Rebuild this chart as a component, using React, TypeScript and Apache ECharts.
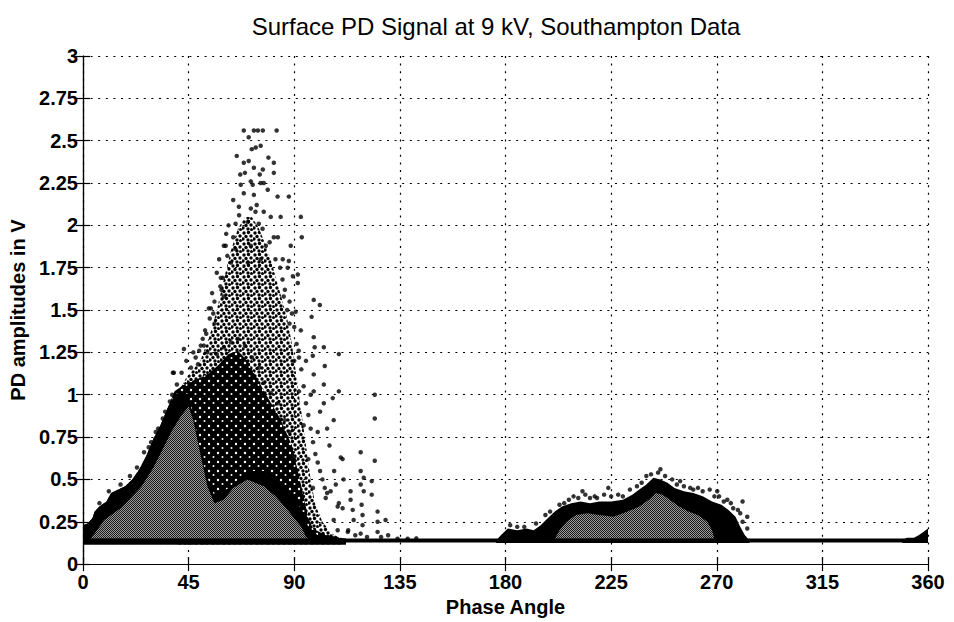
import React, { useEffect, useRef } from "react";
import * as echarts from "echarts";

const titleText = "Surface PD Signal at 9 kV, Southampton Data";
const xName = "Phase Angle";
const yName = "PD amplitudes in V";
const xMin = 0, xMax = 360, xStep = 45;
const yMin = 0, yMax = 3, yStep = 0.25;

// noise-floor band
const baselineLevel = 0.14;
const baselineSpan: [number, number][] = [[0, baselineLevel], [360, baselineLevel]];

// cluster 1 (positive half-cycle): medium-density column envelope
const column1: [number, number][] = [
  [40, 1.0], [44, 1.1], [50, 1.2], [54, 1.35], [57, 1.5], [60, 1.68], [63, 1.85], [66, 1.98],
  [69, 2.05], [72, 2.05], [75, 1.98], [78, 1.88], [81, 1.75], [84, 1.6], [87, 1.45], [89, 1.3],
  [91, 1.1], [93, 0.9], [95, 0.7], [97, 0.5], [99, 0.35], [102, 0.25], [106, 0.18], [110, 0.15],
];
const column1Floor = 0.115;

// cluster 1: dense black envelope
const dense1: [number, number][] = [
  [0, 0.23], [2, 0.24], [4, 0.27], [5, 0.31], [7, 0.34], [10, 0.37], [12, 0.42], [15, 0.44],
  [18, 0.46], [21, 0.5], [24, 0.56], [27, 0.64], [30, 0.74], [33, 0.82], [36, 0.92], [39, 1.02],
  [42, 1.05], [46, 1.08], [50, 1.1], [54, 1.13], [58, 1.18], [62, 1.24], [66, 1.26], [70, 1.2],
  [74, 1.1], [78, 1.0], [84, 0.86], [89, 0.7], [92, 0.52], [94, 0.4], [96, 0.27], [98, 0.21],
  [102, 0.18], [108, 0.16], [112, 0.15],
];
const dense1Floor = 0.115;

// cluster 1: solid-black outer rim (left flank and floor)
const rim1: [number, number][] = [
  [0, 0.23], [2, 0.24], [4, 0.27], [5, 0.31], [7, 0.34], [10, 0.37], [12, 0.42], [15, 0.44],
  [18, 0.46], [21, 0.5], [24, 0.56], [27, 0.64], [30, 0.74], [33, 0.82], [36, 0.92], [39, 1.0],
  [42, 1.02], [45, 1.0], [48, 0.8], [52, 0.55], [56, 0.4], [62, 0.45], [70, 0.55], [78, 0.55],
  [86, 0.45], [92, 0.35], [96, 0.22], [100, 0.17], [108, 0.155], [112, 0.15],
];

// cluster 1: grey (very dense) interior
const grey1: [number, number][] = [
  [3, 0.15], [5, 0.18], [9, 0.26], [16, 0.33], [21, 0.4], [25, 0.46], [30, 0.57], [34, 0.68],
  [38, 0.79], [42, 0.88], [45, 0.93], [47, 0.85], [50, 0.65], [53, 0.46], [56, 0.36], [60, 0.38],
  [64, 0.45], [70, 0.5], [77, 0.46], [82, 0.4], [86, 0.34], [90, 0.27], [93, 0.22], [95, 0.16],
  [96, 0.15],
];
const grey1Floor = 0.15;

// cluster 2 (negative half-cycle): dense black envelope
const dense2: [number, number][] = [
  [176, 0.14], [178, 0.17], [181, 0.21], [185, 0.2], [189, 0.21], [192, 0.2], [195, 0.23],
  [198, 0.27], [201, 0.31], [204, 0.34], [208, 0.36], [212, 0.37], [216, 0.36], [220, 0.37],
  [225, 0.37], [230, 0.38], [234, 0.41], [237, 0.44], [240, 0.47], [243, 0.51], [246, 0.5],
  [249, 0.48], [252, 0.45], [256, 0.43], [260, 0.42], [264, 0.4], [268, 0.37], [272, 0.35],
  [275, 0.32], [278, 0.28], [280, 0.22], [282, 0.17], [284, 0.14],
];
const dense2Floor = 0.125;

// cluster 2: grey interior
const grey2: [number, number][] = [
  [201, 0.15], [203, 0.2], [206, 0.25], [210, 0.29], [215, 0.3], [220, 0.29], [226, 0.28],
  [232, 0.31], [237, 0.34], [241, 0.38], [244, 0.42], [247, 0.41], [250, 0.38], [254, 0.34],
  [258, 0.31], [262, 0.29], [266, 0.25], [268, 0.2], [269, 0.15],
];
const grey2Floor = 0.15;

// rise at the end of the cycle
const tail: [number, number][] = [
  [349, 0.14], [351, 0.155], [354, 0.155], [356, 0.17], [358, 0.19], [360, 0.21],
];
const tailFloor = 0.125;

// individual (sparse) pulses
const pulses: [number, number][] = [
  // peak top
  [68.5, 2.56], [72.8, 2.56], [74.5, 2.56], [76.6, 2.56], [82.5, 2.56], [70.6, 2.52],
  [71.9, 2.45], [73.6, 2.46], [75.7, 2.47], [65.5, 2.41], [68.5, 2.37], [70.6, 2.38],
  [72.8, 2.34], [76.6, 2.33], [81.3, 2.37], [69, 2.31], [75.3, 2.3], [81.3, 2.31],
  [67.2, 2.24], [72.3, 2.24], [77, 2.25], [71.5, 2.26], [75.7, 2.25], [87.7, 2.17],
  [92.8, 2.05], [93.2, 1.93], [68.5, 2.19], [72.8, 2.18], [78.7, 2.21], [82.9, 2.17],
  [66.4, 2.11], [71.5, 2.1], [77, 2.08], [80, 2.05], [84.2, 2.05], [65, 2.01], [70.2, 2.02],
  [74.9, 2.01], [81.3, 1.93], [83, 1.93], [60.8, 1.88], [65, 1.86], [71.5, 1.88], [77.9, 1.88],
  [88.5, 1.88], [63, 1.78], [70.2, 1.78], [75.7, 1.8], [85.1, 1.8], [87.2, 1.75], [89.4, 1.7],
  [91.5, 1.71], [59.6, 1.69], [91.5, 1.66], [87.7, 1.79], [60, 1.88], [58.7, 1.69],
  [54.5, 1.51], [53.6, 1.51], [90.6, 1.49], [64, 2.15], [67, 2.3], [79, 2.4], [74, 2.12],
  // column edges
  [52, 1.38], [54, 1.45], [55, 1.6], [56, 1.55], [57, 1.72], [58, 1.8], [59, 1.62], [61, 1.95],
  [62, 2.0], [53, 1.25], [51, 1.33], [84, 1.75], [86, 1.62], [88, 1.55], [89, 1.48], [90, 1.4],
  [91, 1.3], [92, 1.22], [93, 1.15], [94, 1.05], [95, 0.95], [96, 0.88], [97, 0.8], [98, 0.72],
  [99, 0.65], [100, 0.6], [101, 0.55], [102, 0.5], [103, 0.45], [104, 0.42], [100, 0.78],
  [101, 0.9], [97, 1.0], [95, 1.2], [92.8, 1.38], [91.9, 1.26], [85, 1.68], [87, 1.5],
  [49.5, 1.26], [52.5, 1.36], [55.5, 1.48], [58.5, 1.64], [61.5, 1.82], [64, 1.93],
  [66.5, 2.06], [60, 1.58], [56, 1.42], [73.5, 2.08], [76.5, 1.98], [79.5, 1.9], [82, 1.8],
  [85.5, 1.58], [88, 1.42], [90, 1.2], [92, 1.02], [94, 0.82], [96, 0.62], [98, 0.45],
  // dense-core boundary
  [57, 1.24], [60, 1.28], [63, 1.31], [66, 1.33], [69, 1.29], [72, 1.22], [75, 1.16],
  [77, 1.07], [80, 1.01], [83, 0.95], [86, 0.85], [88, 0.78], [90, 0.63],
  // left edge of cluster 1
  [43, 1.27], [38.7, 1.13], [50.2, 1.29], [51.5, 1.29], [38.3, 1.13], [26, 0.66], [29, 0.72],
  [32, 0.8], [35, 0.9], [38, 1.0], [40, 1.06], [42, 1.13], [44, 1.2], [47, 1.25], [49, 1.18],
  [20, 0.52], [16, 0.47], [11, 0.43], [7, 0.36], [23, 0.57], [28, 0.69], [31, 0.78],
  [34, 0.86], [37, 0.96], [46, 1.16], [48, 1.22],
  // right-hand tail of cluster 1
  [98.3, 1.56], [100.9, 1.53], [97.4, 1.46], [98.3, 1.34], [98.7, 1.28], [102.6, 1.28],
  [103, 1.17], [109, 1.24], [97.9, 1.23], [98.3, 1.12], [102.6, 1.06], [109, 1.02],
  [124.3, 1.0], [124.3, 0.86], [102.6, 0.95], [106.4, 0.98], [106.8, 0.85], [98.3, 1.02],
  [118.3, 0.66], [124.3, 0.61], [110.6, 0.62], [109.8, 0.63], [118.3, 0.55], [119.6, 0.51],
  [123, 0.49], [114, 0.43], [118.3, 0.47], [119.6, 0.43], [123, 0.41], [107.7, 0.47],
  [105.5, 0.43], [109, 0.36], [114, 0.38], [114.9, 0.32], [118.7, 0.35], [119.1, 0.29],
  [125.5, 0.31], [128.9, 0.26], [125.5, 0.25], [115.3, 0.26], [106.8, 0.26], [119.1, 0.23],
  [125.5, 0.19], [118.3, 0.18], [112.8, 0.19], [108.5, 0.2], [110.6, 0.33], [103.4, 0.39],
  [108.5, 0.34], [105, 0.7], [104, 0.8], [107, 0.55], [111, 0.5], [113, 0.2], [116, 0.17],
  [121, 0.16], [127, 0.16], [130, 0.17], [134, 0.15], [138.3, 0.15], [142, 0.152],
  // cluster 2 outliers
  [246, 0.56], [212.8, 0.43], [223.8, 0.45], [240, 0.52], [270.2, 0.43], [262, 0.45],
  [258.7, 0.45], [254.4, 0.49], [274.5, 0.38], [279, 0.32], [219, 0.39], [203, 0.35],
  [205, 0.36], [209, 0.4], [214, 0.41], [218, 0.4], [222, 0.41], [228, 0.41], [233, 0.44],
  [238, 0.48], [242, 0.53], [245, 0.54], [248, 0.52], [251, 0.5], [256, 0.46], [264, 0.43],
  [267, 0.44], [271, 0.4], [276, 0.36], [280, 0.3], [281, 0.25], [283, 0.21], [281, 0.37],
  [283, 0.28], [185, 0.22], [182, 0.23], [188, 0.22], [193, 0.24], [197, 0.29], [199, 0.31],
  [207, 0.38], [211, 0.39], [216, 0.39], [225, 0.4], [230, 0.4], [236, 0.46], [253, 0.47],
  [260, 0.44], [269, 0.4], [273, 0.37], [277, 0.33],
];

// texture tiles (pattern style only)
const sparseTile: [number, number, number][] = [
  [2, 2, 1.7], [6.5, 1.5, 1.7], [9, 5, 1.7], [4, 5.5, 1.7], [1, 8, 1.7], [6, 9, 1.7], [9.5, 9.5, 1.5],
];
const holeTile: [number, number, number][] = [[2, 3, 1.2], [6.5, 7, 1.0]];

function makeTile(size: number, draw: (ctx: CanvasRenderingContext2D) => void) {
  const c = document.createElement("canvas");
  c.width = size;
  c.height = size;
  const ctx = c.getContext("2d")!;
  draw(ctx);
  return { image: c, repeat: "repeat" };
}

function polygonSeries(points: [number, number][], floor: number, fill: any, z: number) {
  return {
    type: "custom",
    coordinateSystem: "cartesian2d",
    silent: true,
    z,
    clip: true,
    data: points,
    encode: { x: 0, y: 1 },
    renderItem: (params: any, api: any) => {
      if (params.dataIndex !== 0) return null;
      const pts = points.map((p) => api.coord(p));
      pts.push(api.coord([points[points.length - 1][0], floor]));
      pts.push(api.coord([points[0][0], floor]));
      return { type: "polygon", shape: { points: pts }, style: { fill } };
    },
  };
}

export default function App() {
  const ref = useRef<HTMLDivElement>(null);
  useEffect(() => {
    if (!ref.current) return;
    const chart = echarts.init(ref.current, undefined, { renderer: "svg" });
    const font = "'Liberation Sans', Arial, sans-serif";
    const grid = { color: "#000", width: 1.2, type: [2, 5.6] as any };

    const dot = (ctx: CanvasRenderingContext2D, x: number, y: number, r: number) => {
      ctx.beginPath(); ctx.arc(x, y, r, 0, Math.PI * 2); ctx.fill();
    };
    const sparseFill = makeTile(11, (ctx) => {
      ctx.fillStyle = "#000";
      sparseTile.forEach(([x, y, r]) => dot(ctx, x, y, r));
    });
    const denseFill = makeTile(9, (ctx) => {
      ctx.fillStyle = "#000";
      ctx.fillRect(0, 0, 9, 9);
      ctx.fillStyle = "#fff";
      holeTile.forEach(([x, y, r]) => dot(ctx, x, y, r));
    });
    const stippleFill = makeTile(2, (ctx) => {
      ctx.fillStyle = "#9a9a9a";
      ctx.fillRect(0, 0, 2, 2);
      ctx.fillStyle = "#1a1a1a";
      ctx.fillRect(0, 0, 1, 1);
      ctx.fillRect(1, 1, 1, 1);
    });

    chart.setOption({
      animation: false,
      backgroundColor: "#fff",
      title: {
        text: titleText,
        left: 491,
        textAlign: "center",
        top: 9,
        textStyle: { fontFamily: font, fontSize: 24, fontWeight: "normal", color: "#000" },
      },
      grid: { left: 82, right: 26, top: 56, bottom: 55 },
      xAxis: [
        {
          type: "value", min: xMin, max: xMax, interval: xStep, position: "bottom",
          name: xName, nameLocation: "middle", nameGap: 28,
          nameTextStyle: { fontFamily: font, fontSize: 20, fontWeight: "bold", color: "#000" },
          axisLine: { show: true, lineStyle: { color: "#000", width: 1.2 } },
          axisTick: { show: true, inside: true, length: 7, lineStyle: { color: "#000", width: 1.2 } },
          axisLabel: { fontFamily: font, fontSize: 20, fontWeight: "bold", color: "#000", margin: 8 },
          splitLine: { show: true, lineStyle: grid },
        },
        {
          type: "value", min: xMin, max: xMax, interval: xStep, position: "top",
          axisLine: { show: true, lineStyle: { color: "#000", width: 1.2 } },
          axisTick: { show: true, inside: true, length: 7, lineStyle: { color: "#000", width: 1.2 } },
          axisLabel: { show: false },
          splitLine: { show: false },
        },
      ],
      yAxis: [
        {
          type: "value", min: yMin, max: yMax, interval: yStep, position: "left",
          name: yName, nameLocation: "middle", nameGap: 55,
          nameTextStyle: { fontFamily: font, fontSize: 20, fontWeight: "bold", color: "#000" },
          axisLine: { show: true, lineStyle: { color: "#000", width: 1.2 } },
          axisTick: { show: true, inside: true, length: 7, lineStyle: { color: "#000", width: 1.2 } },
          axisLabel: { fontFamily: font, fontSize: 20, fontWeight: "bold", color: "#000", margin: 5 },
          splitLine: { show: true, lineStyle: grid },
        },
        {
          type: "value", min: yMin, max: yMax, interval: yStep, position: "right",
          axisLine: { show: true, lineStyle: { color: "#000", width: 1.2 } },
          axisTick: { show: true, inside: true, length: 7, lineStyle: { color: "#000", width: 1.2 } },
          axisLabel: { show: false },
          splitLine: { show: false },
        },
      ],
      series: [
        polygonSeries(column1, column1Floor, sparseFill, 2),
        polygonSeries(dense1, dense1Floor, denseFill, 3),
        polygonSeries(rim1, dense1Floor, "#000", 3),
        polygonSeries(grey1, grey1Floor, stippleFill, 4),
        polygonSeries(dense2, dense2Floor, "#000", 3),
        polygonSeries(grey2, grey2Floor, stippleFill, 4),
        polygonSeries(tail, tailFloor, "#000", 3),
        {
          type: "line", data: baselineSpan, symbol: "none", silent: true, z: 5,
          lineStyle: { color: "#000", width: 4 },
        },
        {
          type: "scatter", data: pulses, symbol: "circle", symbolSize: 4.5, silent: true, z: 6,
          itemStyle: { color: "#000" },
        },
      ],
    });
    return () => chart.dispose();
  }, []);
  return (
    <div
      ref={ref}
      style={{ position: "fixed", left: 0, top: 0, width: 954, height: 622, background: "#fff" }}
    />
  );
}
